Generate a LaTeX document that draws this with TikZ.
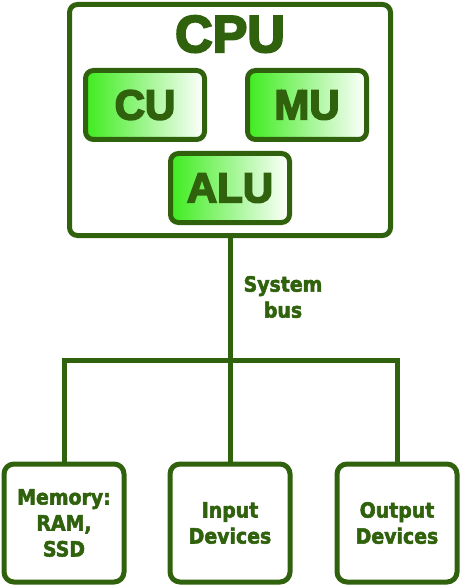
\documentclass[tikz,border=0pt]{standalone}
\usepackage{fontspec}
\usepackage{tikz}
\setmainfont{DejaVu Sans}[FakeStretch=0.9,BoldFeatures={FakeBold=2.5}]
\newfontfamily\chipfont{Liberation Sans}[BoldFeatures={FakeBold=4}]
\definecolor{darkleaf}{RGB}{48,98,14}
\definecolor{brightleaf}{RGB}{62,236,30}
\def\unitw{119pt}
\def\unith{69pt}

\begin{document}
\begin{tikzpicture}[x=1pt,y=-1pt,draw=darkleaf,text=darkleaf,font=\bfseries\fontsize{21}{26}\selectfont]
    \tikzstyle{box}=[draw,line width=5pt,rounded corners=8pt,inner sep=0pt]
    \tikzstyle{unit}=[box,left color=brightleaf,right color=white,minimum width=\unitw,minimum height=\unith,font=\chipfont\bfseries\fontsize{42}{42}\selectfont]
    \tikzstyle{device}=[box,rounded corners=10pt,minimum width=120pt,minimum height=118pt,align=center]
    \tikzstyle{bus}=[line width=5pt]

    \useasboundingbox (0,0) rectangle (462,588);

    % Draw the CPU and its units
    \node[box,minimum width=321pt,minimum height=231pt] (cpu) at (230,120) {};
    \node[font=\chipfont\bfseries\fontsize{52}{52}\selectfont,anchor=base] (cpulabel) at (230,52) {CPU};
    \node[unit] (cu) at (145,105) {CU};
    \node[unit] (mu) at (307,105) {MU};
    \node[unit] (alu) at (230,188) {ALU};

    % Draw the devices on the bus
    \node[device] (mem) at (64,523) {Memory:\\RAM,\\SSD};
    \node[device] (inp) at (230,523) {Input\\Devices};
    \node[device] (out) at (397,523) {Output\\Devices};

    % Connect the CPU with every device
    \coordinate (junction) at (230,360);
    \draw[bus] (cpu.south) -- (inp.north);
    \draw[bus] (mem.north) |- (junction) -| (out.north);

    % Annotate the bus
    \node[align=center] (buslabel) at (283,297) {System\\bus};
\end{tikzpicture}
\end{document}
